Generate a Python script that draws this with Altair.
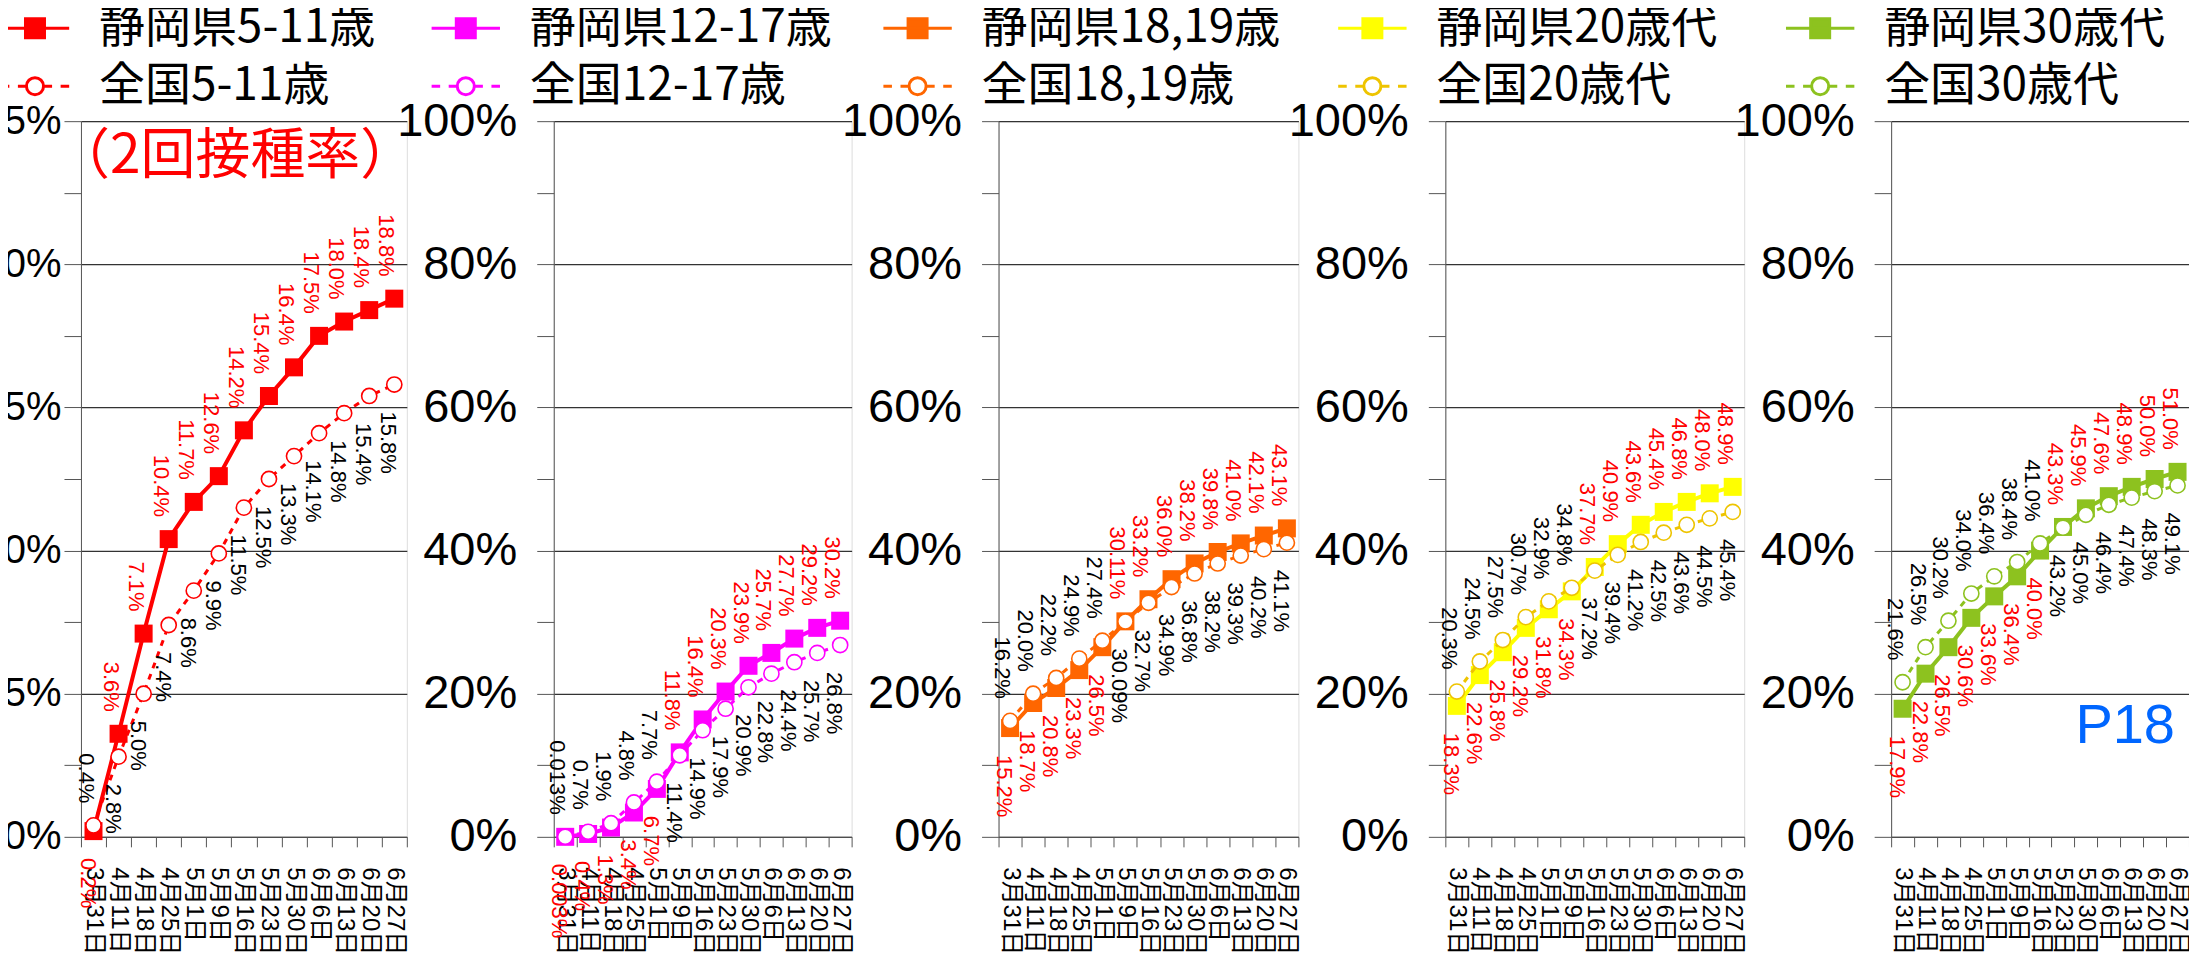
import altair as alt
import pandas as pd

# ---------------- data ----------------
dates = ["3月31日", "4月11日", "4月18日", "4月25日", "5月1日", "5月9日", "5月16日",
         "5月23日", "5月30日", "6月6日", "6月13日", "6月20日", "6月27日"]

age_groups = ["5-11歳", "12-17歳", "18,19歳", "20歳代", "30歳代"]

shizuoka_5_11 = [0.2, 3.6, 7.1, 10.4, 11.7, 12.6, 14.2, 15.4, 16.4, 17.5, 18.0, 18.4, 18.8]
national_5_11 = [0.4, 2.8, 5.0, 7.4, 8.6, 9.9, 11.5, 12.5, 13.3, 14.1, 14.8, 15.4, 15.8]

shizuoka_12_17 = [0.003, 0.4, 1.3, 3.4, 6.7, 11.8, 16.4, 20.3, 23.9, 25.7, 27.7, 29.2, 30.2]
national_12_17 = [0.013, 0.7, 1.9, 4.8, 7.7, 11.4, 14.9, 17.9, 20.9, 22.8, 24.4, 25.7, 26.8]

shizuoka_18_19 = [15.2, 18.7, 20.8, 23.3, 26.5, 30.11, 33.2, 36.0, 38.2, 39.8, 41.0, 42.1, 43.1]
national_18_19 = [16.2, 20.0, 22.2, 24.9, 27.4, 30.09, 32.7, 34.9, 36.8, 38.2, 39.3, 40.2, 41.1]

shizuoka_20s = [18.3, 22.6, 25.8, 29.2, 31.8, 34.3, 37.7, 40.9, 43.6, 45.4, 46.8, 48.0, 48.9]
national_20s = [20.3, 24.5, 27.5, 30.7, 32.9, 34.8, 37.2, 39.4, 41.2, 42.5, 43.6, 44.5, 45.4]

shizuoka_30s = [17.9, 22.8, 26.5, 30.6, 33.6, 36.4, 40.0, 43.3, 45.9, 47.6, 48.9, 50.0, 51.0]
national_30s = [21.6, 26.5, 30.2, 34.0, 36.4, 38.4, 41.0, 43.2, 45.0, 46.4, 47.4, 48.3, 49.1]

pref_series = [shizuoka_5_11, shizuoka_12_17, shizuoka_18_19, shizuoka_20s, shizuoka_30s]
nat_series = [national_5_11, national_12_17, national_18_19, national_20s, national_30s]

y_max = [25, 100, 100, 100, 100]
y_step = [5, 20, 20, 20, 20]

title_note = "（2回接種率）"
title_note_value = 23.8
page_note = "P18"
page_note_value = 15.5

# ---------------- style ----------------
pref_colors = ["#FF0000", "#FF00FF", "#FF6600", "#FFFF00", "#8DC21F"]
nat_colors = ["#FF0000", "#FF00FF", "#FF6600", "#EEC400", "#8DC21F"]
panel_widths = [326, 298, 300, 299, 298]
legend_x = [-69, -111, -104, -96, -94]
y_label_size = [40, 47, 47, 47, 47]
y_label_pad = [3, 20, 20, 20, 20]
PANEL_H = 716

NUM_FONT = "Liberation Sans, Arial, sans-serif"
LABEL_FONT = "Liberation Sans, Noto Sans CJK JP, sans-serif"
JP_FONT = "Noto Sans CJK JP, sans-serif"

PATH_PREF = "M-3.6,0H3.6M-1,-1H1V1H-1Z"
PATH_NAT = ("M-3.6,0H-2.7M-1.8,0H-1.0M1.0,0H1.8M2.7,0H3.6"
            "M0.9,0A0.9,0.9,0,1,1,-0.9,0A0.9,0.9,0,1,1,0.9,0Z")


def x_enc(band_pos=0.5):
    return alt.X(
        "date:N", sort=dates, bandPosition=band_pos, title=None,
        scale=alt.Scale(type="band", paddingInner=0, paddingOuter=0),
        axis=alt.Axis(labelAngle=90, tickBand="extent", tickSize=10, labelPadding=20,
                      labelFont=LABEL_FONT, labelFontSize=24, labelColor="black",
                      domainColor="#555", tickColor="#555", grid=False,
                      labelOverlap=False),
    )


def y_enc(i):
    step = y_step[i]
    half = step / 2
    vals = [k * half for k in range(int(y_max[i] / half) + 1)]
    return alt.Y(
        "value:Q", title=None,
        scale=alt.Scale(domain=[0, y_max[i]], nice=False),
        axis=alt.Axis(
            values=vals,
            labelExpr=f"datum.value % {step} === 0 ? datum.value + '%' : ''",
            labelFont=NUM_FONT, labelFontSize=y_label_size[i], labelColor="black",
            labelPadding=y_label_pad[i], tickSize=17, tickColor="#555", domainColor="#555",
            gridColor="#333", gridWidth=1.2,
            gridOpacity={"condition": {"test": f"datum.value % {step} === 0", "value": 1},
                         "value": 0},
            labelOverlap=False,
        ),
    )


def make_panel(i):
    grp = age_groups[i]
    s_name = "静岡県" + grp
    n_name = "全国" + grp
    rows = []
    for d, p, n in zip(dates, pref_series[i], nat_series[i]):
        rows.append(dict(date=d, series=s_name, kind="pref", value=p,
                         label=f"{p}%", up=bool(p >= n)))
        rows.append(dict(date=d, series=n_name, kind="nat", value=n,
                         label=f"{n}%", up=bool(n > p)))
    df = pd.DataFrame(rows)
    c = pref_colors[i]
    cn = nat_colors[i]

    base = alt.Chart(df).encode(x=x_enc(), y=y_enc(i))
    is_pref = "datum.kind == 'pref'"
    is_nat = "datum.kind == 'nat'"

    line_p = base.transform_filter(is_pref).mark_line(color=c, strokeWidth=4)
    squares = base.transform_filter(is_pref).mark_square(color=c, size=324, opacity=1)
    line_n = base.transform_filter(is_nat).mark_line(color=cn, strokeWidth=3, strokeDash=[6, 6])
    circles = base.transform_filter(is_nat).mark_point(
        shape="circle", filled=True, fill="white", stroke=cn, strokeWidth=1.6,
        size=230, opacity=1)

    txt_color = alt.condition(is_pref, alt.value("#FF0000"), alt.value("#000000"))
    labels_up = base.transform_filter("datum.up").mark_text(
        angle=90, align="right", baseline="middle", dx=-22, dy=8,
        font=NUM_FONT, fontSize=22).encode(text="label:N", color=txt_color)
    labels_dn = base.transform_filter("!datum.up").mark_text(
        angle=90, align="left", baseline="middle", dx=27, dy=6,
        font=NUM_FONT, fontSize=22).encode(text="label:N", color=txt_color)

    leg = alt.Legend(title=None, orient="none", legendX=legend_x[i], legendY=-116,
                     direction="vertical", labelFont=JP_FONT, labelFontSize=46,
                     labelColor="black", labelLimit=0, symbolSize=361,
                     symbolStrokeWidth=3, symbolOffset=0, labelOffset=41,
                     rowPadding=12)
    dom = [s_name, n_name]
    legend_layer = base.transform_filter("false").mark_point(filled=True, opacity=1).encode(
        shape=alt.Shape("series:N", scale=alt.Scale(domain=dom, range=[PATH_PREF, PATH_NAT]), legend=leg),
        fill=alt.Fill("series:N", scale=alt.Scale(domain=dom, range=[c, "white"]), legend=leg),
        stroke=alt.Stroke("series:N", scale=alt.Scale(domain=dom, range=[c, cn]), legend=leg),
    )

    layers = [line_p, squares, line_n, circles, labels_up, labels_dn, legend_layer]

    if i == 0:
        note = alt.Chart(pd.DataFrame({"date": [dates[0]], "value": [title_note_value],
                                       "label": [title_note]})).mark_text(
            align="left", baseline="middle", dx=-26, font=JP_FONT, fontSize=55,
            color="#FF0000").encode(x=x_enc(0), y=y_enc(i), text="label:N")
        layers.append(note)
    if i == 4:
        pnote = alt.Chart(pd.DataFrame({"date": [dates[-1]], "value": [page_note_value],
                                        "label": [page_note]})).mark_text(
            align="right", baseline="middle", dx=-14, font=NUM_FONT,
            fontSize=56, color="#0066FF").encode(x=x_enc(1), y=y_enc(i), text="label:N")
        layers.append(pnote)

    return alt.layer(*layers).properties(width=panel_widths[i], height=PANEL_H)


panels = [make_panel(i) for i in range(5)]

chart = alt.hconcat(*panels, spacing=147, bounds="flush").resolve_scale(
    x="independent", y="independent", shape="independent",
    fill="independent", stroke="independent", color="independent",
).resolve_legend(
    shape="independent", fill="independent", stroke="independent",
).properties(
    padding={"left": -28, "top": -4, "right": -2, "bottom": 0},
).configure_view(
    stroke="#555", strokeWidth=1.3,
).configure(background="white")

chart.save("out.html", embed_options={"renderer": "svg", "actions": False})
